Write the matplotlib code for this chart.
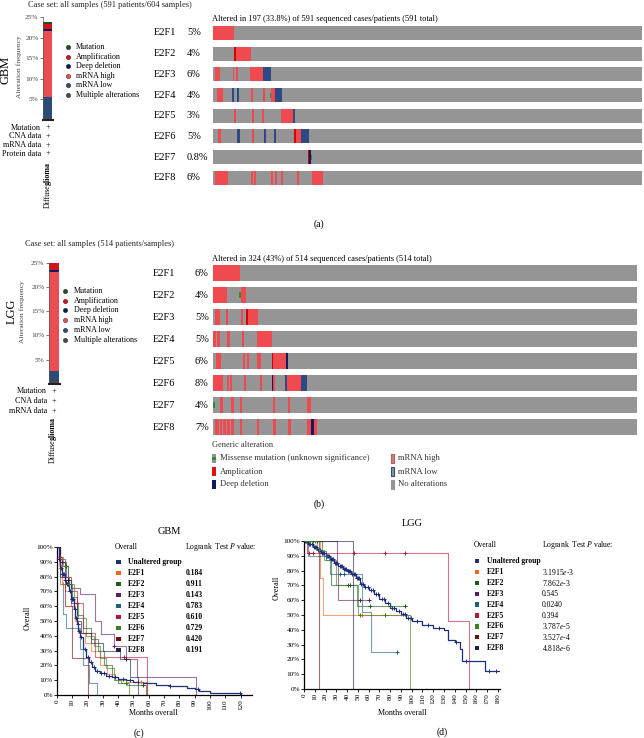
import numpy as np
import matplotlib
matplotlib.use("Agg")
import matplotlib.pyplot as plt
from matplotlib.patches import Rectangle

plt.rcParams["font.family"] = ["Liberation Serif", "DejaVu Serif"]
plt.rcParams["mathtext.fontset"] = "stix"

W, H = 644, 738

# ---------------- data ----------------
GENES = ["E2F1", "E2F2", "E2F3", "E2F4", "E2F5", "E2F6", "E2F7", "E2F8"]
GBM_PCT = ["5%", "4%", "6%", "4%", "3%", "5%", "0.8%", "6%"]
LGG_PCT = ["6%", "4%", "5%", "5%", "6%", "8%", "4%", "7%"]
GBM_CASES = 591
LGG_CASES = 514

# oncoprint blocks per gene: (first case, number of cases, kind)
GBM_ALT = [
    [(0, 29, "high")],
    [(29, 2.5, "amp"), (31, 21, "high")],
    [(3, 7, "high"), (27, 2.5, "high"), (32, 2.5, "high"), (51, 18, "high"), (69, 11, "low")],
    [(5, 9, "high"), (26, 2.5, "low"), (33, 2.5, "low"), (53, 2.5, "high"), (69, 2.5, "high"),
     (78, 2, "mut"), (80, 6, "high"), (86, 9, "low")],
    [(29, 2.5, "high"), (54, 2.5, "high"), (68, 2.5, "high"), (94, 16, "high"), (110, 2.5, "low")],
    [(7, 4, "high"), (33, 4, "low"), (54, 3, "high"), (70, 2.5, "low"), (84, 2.5, "low"),
     (112, 2.5, "amp"), (114, 2, "mut"), (115, 6, "high"), (121, 11, "low")],
    [(130.5, 2, "amp"), (132.5, 2, "del"), (134.5, 2, "mut")],
    [(3, 17, "high"), (52, 2.5, "high"), (57, 2.5, "high"), (80, 2.5, "high"), (85, 2.5, "high"),
     (94, 2.5, "high"), (116, 2.5, "high"), (137, 15, "high")],
]
LGG_ALT = [
    [(0, 33, "high")],
    [(0, 17, "high"), (32, 2, "mut"), (34, 6, "high")],
    [(2, 7, "high"), (16, 2.5, "high"), (34, 2.5, "high"), (40, 2, "amp"), (42, 12.5, "high")],
    [(0, 4, "high"), (5, 4, "high"), (17, 3.5, "high"), (35, 2.5, "high"), (53, 18.5, "high")],
    [(4, 6, "high"), (36, 2.5, "high"), (41, 2.5, "high"), (53, 5, "high"), (71, 2, "amp"),
     (73, 15.5, "high"), (88.5, 2, "del")],
    [(0, 12, "high"), (17, 2.5, "high"), (21, 2.5, "high"), (38, 2.5, "high"), (57, 2.5, "high"),
     (71, 2, "del"), (73, 2, "high"), (87, 2.5, "low"), (89.5, 17, "high"), (106.5, 7.5, "low")],
    [(0, 2, "mut"), (8.5, 3.5, "high"), (22, 3.5, "high"), (33, 2.5, "high"), (72.5, 2.5, "high"),
     (91, 2.5, "high"), (114, 5, "high")],
    [(2.5, 5, "high"), (8.5, 3, "high"), (12.5, 3, "high"), (17, 3.5, "high"), (22, 3.5, "high"),
     (33, 2.5, "high"), (53, 2.5, "high"), (72.5, 3.5, "high"), (91, 3, "high"), (114, 5, "high"),
     (119, 3, "del"), (122, 4, "high")],
]

# cancer type summary (% of cases), bottom to top
SUMMARY_KINDS = ["Multiple alterations", "mRNA low", "mRNA high", "Deep deletion", "Amplification", "Mutation"]
GBM_SUMMARY = [0.5, 5.0, 16.0, 0.5, 1.3, 0.6]
LGG_SUMMARY = [0.55, 2.1, 20.4, 0.5, 1.4, 0.05]

# Kaplan-Meier step curves (months, survival fraction)
KM_GROUPS = ["Unaltered group", "E2F1", "E2F2", "E2F3", "E2F4", "E2F5", "E2F6", "E2F7", "E2F8"]
GBM_T = [
    [0, 1, 2, 3, 5, 6, 8, 9, 11, 12, 13, 14, 15, 17, 19, 21, 23, 25, 28, 32, 36, 40, 45, 50, 56,
     65, 74, 85, 90, 93, 100, 116, 120],
    [0, 1, 3, 5, 9, 12, 14, 18, 22, 28, 33, 38, 45, 59],
    [0, 2, 5, 7, 10, 13, 17, 22, 27, 31, 36, 40, 46, 58],
    [0, 2, 6, 9, 15, 25, 29, 37, 45, 52, 91],
    [0, 2, 4, 6, 15, 17, 21, 26],
    [0, 1, 3, 8, 13, 17, 25, 59],
    [0, 1, 4, 7, 11, 14, 19, 24, 28, 32, 37, 42, 47],
    [0, 2, 5, 10, 20],
    [0, 2, 5, 9, 13, 16, 22, 30, 41, 48, 53],
]
GBM_S = [
    [1.0, 0.92, 0.86, 0.82, 0.78, 0.75, 0.70, 0.65, 0.58, 0.52, 0.48, 0.43, 0.39, 0.31, 0.26, 0.22,
     0.19, 0.16, 0.15, 0.13, 0.12, 0.11, 0.10, 0.09, 0.08, 0.07, 0.06, 0.05, 0.04, 0.03, 0.015, 0.012, 0.0],
    [1.0, 0.88, 0.75, 0.70, 0.60, 0.50, 0.42, 0.35, 0.30, 0.20, 0.14, 0.10, 0.09, 0.0],
    [1.0, 0.92, 0.87, 0.75, 0.66, 0.54, 0.45, 0.38, 0.30, 0.20, 0.12, 0.08, 0.07, 0.0],
    [1.0, 0.90, 0.80, 0.72, 0.68, 0.50, 0.41, 0.33, 0.24, 0.12, 0.0],
    [1.0, 0.75, 0.55, 0.45, 0.31, 0.20, 0.08, 0.0],
    [1.0, 0.93, 0.80, 0.70, 0.62, 0.42, 0.26, 0.0],
    [1.0, 0.93, 0.87, 0.75, 0.62, 0.52, 0.40, 0.33, 0.25, 0.18, 0.10, 0.08, 0.0],
    [1.0, 0.80, 0.60, 0.25, 0.0],
    [1.0, 0.90, 0.78, 0.62, 0.50, 0.42, 0.35, 0.30, 0.24, 0.12, 0.0],
]
GBM_CENS = [
    [1.5, 2.5, 3.5, 4, 4.5, 5.5, 6.5, 7, 7.5, 8.5, 9.5, 10, 10.5, 11.5, 12.5, 13.5, 14.5, 16, 18,
     20, 22, 24, 26, 29, 31, 34, 38, 43, 48, 53, 74, 92, 119.5],
    [4, 55], [6, 8, 56], [3, 37], [], [2, 13, 44], [5, 8, 45], [], [7, 45],
]
GBM_P = ["", "0.184", "0.911", "0.143", "0.783", "0.610", "0.729", "0.420", "0.191"]

LGG_T = [
    [0, 4, 8, 12, 16, 20, 24, 28, 32, 36, 40, 44, 48, 52, 56, 60, 65, 70, 75, 80, 85, 90, 95, 100,
     110, 120, 130, 134, 140, 145, 147, 168, 181],
    [0, 15, 18, 98],
    [0, 17, 20, 25, 49, 95],
    [0, 31, 32, 61],
    [0, 4, 24, 54, 62, 87],
    [0, 3, 134, 153],
    [0, 12, 19, 30, 50, 98],
    [0, 13.6],
    [0, 45.5],
]
LGG_S = [
    [1.0, 0.98, 0.96, 0.94, 0.92, 0.90, 0.88, 0.85, 0.83, 0.81, 0.80, 0.78, 0.75, 0.71, 0.69, 0.67,
     0.64, 0.61, 0.58, 0.55, 0.53, 0.51, 0.48, 0.46, 0.43, 0.41, 0.40, 0.33, 0.32, 0.27, 0.19, 0.12, 0.12],
    [1.0, 0.75, 0.50, 0.50],
    [1.0, 0.93, 0.87, 0.70, 0.56, 0.56],
    [1.0, 0.85, 0.60, 0.60],
    [1.0, 0.90, 0.78, 0.52, 0.25, 0.25],
    [1.0, 0.92, 0.46, 0.0],
    [1.0, 0.94, 0.87, 0.70, 0.50, 0.0],
    [1.0, 0.0],
    [1.0, 0.0],
]
LGG_CENS = [
    [1, 2, 3, 5, 6, 7, 9, 10, 11, 13, 14, 15, 17, 18, 19, 21, 22, 23, 25, 26, 27, 29, 30, 31, 33,
     34, 35, 37, 38, 39, 41, 42, 43, 45, 46, 47, 49, 50, 51, 53, 55, 57, 59, 62, 64, 67, 69, 72, 74,
     78, 82, 84, 88, 92, 94, 97, 99, 105, 115, 125, 141, 150, 172, 178],
    [54, 75], [8, 12, 41, 43, 61, 80, 94], [6, 52, 60], [20, 33, 37, 86], [5, 8, 46, 75, 94],
    [2, 6, 10, 14, 52, 75], [], [],
]
LGG_P = ["", "3.1915$e$-3", "7.862$e$-3", "0.545", "0.0240", "0.394", "3.787$e$-5", "3.527$e$-4",
         "4.818$e$-6"]

# ---------------- styles ----------------
GRAY = "#959595"
ALT_COLORS = {"high": "#ef4a50", "low": "#2e4a86", "amp": "#d40000", "del": "#101b5e", "mut": "#2e8f2e"}
SUMMARY_COLORS = ["#4a4a4a", "#2b4a78", "#ea4d52", "#0c1a5c", "#d2141b", "#1e4d1e"]
KM_COLORS = ["#1f2e7a", "#f26522", "#1e5a1e", "#5b1d5b", "#1f5f80", "#b3173d", "#3f7f1f", "#6b1010", "#1b2442"]


def px_axes(fig, x0, y0, x1, y1):
    return fig.add_axes([x0 / W, 1 - y1 / H, (x1 - x0) / W, (y1 - y0) / H])


def draw_summary(ax, values):
    bottom = 0.0
    for v, c in zip(values, SUMMARY_COLORS):
        ax.bar(0, v, bottom=bottom, width=0.9, color=c, linewidth=0)
        bottom += v
    ax.set_xlim(-0.45, 0.55)
    ax.set_ylim(0, 25)
    ax.set_yticks([5, 10, 15, 20, 25])
    ax.set_yticklabels(["5%", "10%", "15%", "20%", "25%"])
    ax.tick_params(axis="y", labelsize=5.2, length=2, width=0.5, pad=1, colors="#444444")
    ax.set_xticks([])
    for side in ["top", "right"]:
        ax.spines[side].set_visible(False)
    ax.spines["left"].set_linewidth(0.5)
    ax.spines["left"].set_color("#555555")
    ax.spines["bottom"].set_linewidth(1.5)
    ax.spines["bottom"].set_color("#222222")
    ax.patch.set_alpha(0)


def draw_oncoprint(ax, alts, n_cases, bar_h):
    rows = np.arange(len(GENES))
    ax.barh(rows, n_cases, height=bar_h, color=GRAY, linewidth=0)
    for r, blocks in enumerate(alts):
        for start, length, kind in blocks:
            h = bar_h * 0.35 if kind == "mut" else bar_h
            ax.barh(r, length, left=start, height=h, color=ALT_COLORS[kind], linewidth=0)
    ax.set_xlim(0, n_cases)
    ax.set_ylim(len(GENES) - 0.5, -0.5)
    ax.axis("off")


def draw_km(ax, times, survs, censors, xmax, xticks):
    for i in range(len(KM_GROUPS)):
        t = np.array(times[i], dtype=float)
        s = np.array(survs[i], dtype=float)
        main = i == 0
        ax.step(t, s, where="post", color=KM_COLORS[i], lw=0.9 if main else 0.8,
                alpha=1.0 if main else 0.6, zorder=3 if main else 2)
        c = np.array(censors[i], dtype=float)
        if len(c):
            idx = np.searchsorted(t, c, side="right") - 1
            ax.plot(c, s[idx], "+", color=KM_COLORS[i], ms=2.6, mew=0.7, zorder=4)
    ax.set_xlim(0, xmax)
    ax.set_ylim(0, 1.0)
    ax.set_xticks(xticks)
    ax.set_xticklabels([str(v) for v in xticks], rotation=90)
    yt = np.arange(0, 1.01, 0.1)
    ax.set_yticks(yt)
    ax.set_yticklabels([f"{int(round(v * 100))}%" for v in yt])
    ax.tick_params(labelsize=5.2, length=2, width=0.6, pad=1)
    for side in ["top", "right"]:
        ax.spines[side].set_visible(False)
    ax.spines["left"].set_linewidth(0.9)
    ax.spines["bottom"].set_linewidth(0.9)
    ax.patch.set_alpha(0)


fig = plt.figure(figsize=(W / 100, H / 100), dpi=100)
fig.patch.set_facecolor("white")

ov = fig.add_axes([0, 0, 1, 1])
ov.set_xlim(0, W)
ov.set_ylim(H, 0)
ov.axis("off")
ov.set_zorder(10)
ov.patch.set_alpha(0)


def txt(x, y, s, size=5.5, **kw):
    kw.setdefault("va", "center")
    ov.text(x, y, s, fontsize=size, **kw)


def diffuse_glioma(x, y_bottom):
    # rotated two-part label, normal + bold
    txt(x, y_bottom, "Diffuse", 5.7, ha="center", va="bottom", rotation=90)
    txt(x, y_bottom - 23, "glioma", 5.7, ha="center", va="bottom", rotation=90, fontweight="bold")


# ---------------- panel (a) ----------------
txt(110, 5, "Case set: all samples (591 patients/604 samples)", 6, ha="center", color="#222222")
draw_summary(px_axes(fig, 42.5, 17, 52.5, 120), GBM_SUMMARY)
txt(6, 70, "GBM", 9, ha="center", rotation=90)
txt(19.5, 67, "Alteration frequency", 5.4, ha="center", rotation=90, color="#444444")
for j, (kind, col) in enumerate(zip(SUMMARY_KINDS[::-1], SUMMARY_COLORS[::-1])):
    yy = 47 + j * 9.6
    ov.scatter([68], [yy], s=10, color=col, edgecolors="#222222", linewidths=0.3)
    txt(76, yy, kind, 5.8, ha="left")
for j, lab in enumerate(["Mutation", "CNA data", "mRNA data", "Protein data"]):
    yy = 127.5 + j * 8.7
    txt(41, yy, lab, 5.9, ha="right")
    txt(48, yy, "+", 5.9, ha="center")
diffuse_glioma(48, 208)

gbm_y0, gbm_sp = 22.6, 20.7
draw_oncoprint(px_axes(fig, 213, gbm_y0, 642, gbm_y0 + 8 * gbm_sp), GBM_ALT, GBM_CASES, 0.68)
txt(212, 19, "Altered in 197 (33.8%) of 591 sequenced cases/patients (591 total)", 6, ha="left")
for i, g in enumerate(GENES):
    yy = gbm_y0 + (i + 0.5) * gbm_sp
    txt(154, yy, g, 7.5, ha="left")
    txt(187, yy, GBM_PCT[i], 7.5, ha="left")
txt(319, 224, "(a)", 7, ha="center")

# ---------------- panel (b) ----------------
txt(100, 244, "Case set: all samples (514 patients/samples)", 6, ha="center", color="#222222")
draw_summary(px_axes(fig, 48.5, 262.7, 60, 384), LGG_SUMMARY)
txt(12, 311, "LGG", 9, ha="center", rotation=90)
txt(22.5, 312, "Alteration frequency", 5.4, ha="center", rotation=90, color="#444444")
for j, (kind, col) in enumerate(zip(SUMMARY_KINDS[::-1], SUMMARY_COLORS[::-1])):
    yy = 291 + j * 9.7
    ov.scatter([65], [yy], s=10, color=col, edgecolors="#222222", linewidths=0.3)
    txt(74, yy, kind, 5.8, ha="left")
for j, lab in enumerate(["Mutation", "CNA data", "mRNA data"]):
    yy = 391 + j * 10.2
    txt(47, yy, lab, 5.9, ha="right")
    txt(54, yy, "+", 5.9, ha="center")
diffuse_glioma(53, 463)

lgg_y0, lgg_sp = 262, 22.0
draw_oncoprint(px_axes(fig, 213, lgg_y0, 637, lgg_y0 + 8 * lgg_sp), LGG_ALT, LGG_CASES, 0.72)
txt(212, 259, "Altered in 324 (43%) of 514 sequenced cases/patients (514 total)", 6, ha="left")
for i, g in enumerate(GENES):
    yy = lgg_y0 + (i + 0.5) * lgg_sp
    txt(153, yy, g, 7.5, ha="left")
    txt(195, yy, LGG_PCT[i], 7.5, ha="left")

txt(212, 445, "Generic alteration", 6, ha="left", color="#333333")
left_items = ["Missense mutation (unknown significance)", "Amplication", "Deep deletion"]
right_items = ["mRNA high", "mRNA low", "No alterations"]
for j in range(3):
    yy = 458.5 + j * 13
    ov.add_patch(Rectangle((212.5, yy - 4.5), 3.5, 9, color=GRAY, lw=0))
    if j == 0:
        ov.add_patch(Rectangle((212.5, yy - 1.6), 3.5, 3.2, color=ALT_COLORS["mut"], lw=0))
    elif j == 1:
        ov.add_patch(Rectangle((212.5, yy - 4.5), 3.5, 9, color="#dd1111", lw=0))
    else:
        ov.add_patch(Rectangle((212.5, yy - 4.5), 3.5, 9, color=ALT_COLORS["del"], lw=0))
    txt(220, yy, left_items[j], 6.2, ha="left", color="#333333")
    edge = ["#e84a50", "#2e4a86", GRAY][j]
    ov.add_patch(Rectangle((391, yy - 4.5), 3.5, 9, facecolor=GRAY, edgecolor=edge, lw=0.8))
    txt(398, yy, right_items[j], 6.2, ha="left", color="#333333")
txt(319, 504, "(b)", 7, ha="center")

# ---------------- panel (c) ----------------
txt(169, 531, "GBM", 7.5, ha="center")
draw_km(px_axes(fig, 57, 547, 252, 695), GBM_T, GBM_S, GBM_CENS, 127.5, list(range(0, 121, 10)))
txt(28, 618, "Overall", 5.8, ha="center", rotation=90)
txt(153, 713, "Months overall", 5.8, ha="center")
txt(115, 547, "Overall", 5.5, ha="left")
txt(185, 547, r"Logrank  Test $P$ value:", 5.5, ha="left")
for i, g in enumerate(KM_GROUPS):
    yy = 562 + i * 11
    ov.add_patch(Rectangle((116.5, yy - 2.2), 4.4, 4.4, color=KM_COLORS[i], lw=0))
    txt(128, yy, g, 5.5, ha="left", fontweight="bold")
    if GBM_P[i]:
        txt(186, yy, GBM_P[i], 5.5, ha="left", fontweight="bold")
txt(139, 733, "(c)", 7, ha="center")

# ---------------- panel (d) ----------------
txt(412, 523, "LGG", 7.5, ha="center")
draw_km(px_axes(fig, 304, 541, 500, 689), LGG_T, LGG_S, LGG_CENS, 182, list(range(0, 181, 10)))
txt(277, 588, "Overall", 5.8, ha="center", rotation=90)
txt(402, 713, "Months overall", 5.8, ha="center")
txt(474, 545, "Overall", 5.5, ha="left")
txt(542, 545, r"Logrank  Test $P$ value:", 5.5, ha="left")
for i, g in enumerate(KM_GROUPS):
    yy = 561 + i * 10.9
    ov.add_patch(Rectangle((475, yy - 2.2), 4.4, 4.4, color=KM_COLORS[i], lw=0))
    txt(487, yy, g, 5.5, ha="left", fontweight="bold")
    if LGG_P[i]:
        txt(542, yy, LGG_P[i], 5.5, ha="left")
txt(442, 732, "(d)", 7, ha="center")

fig.savefig("out.png", dpi=100)
